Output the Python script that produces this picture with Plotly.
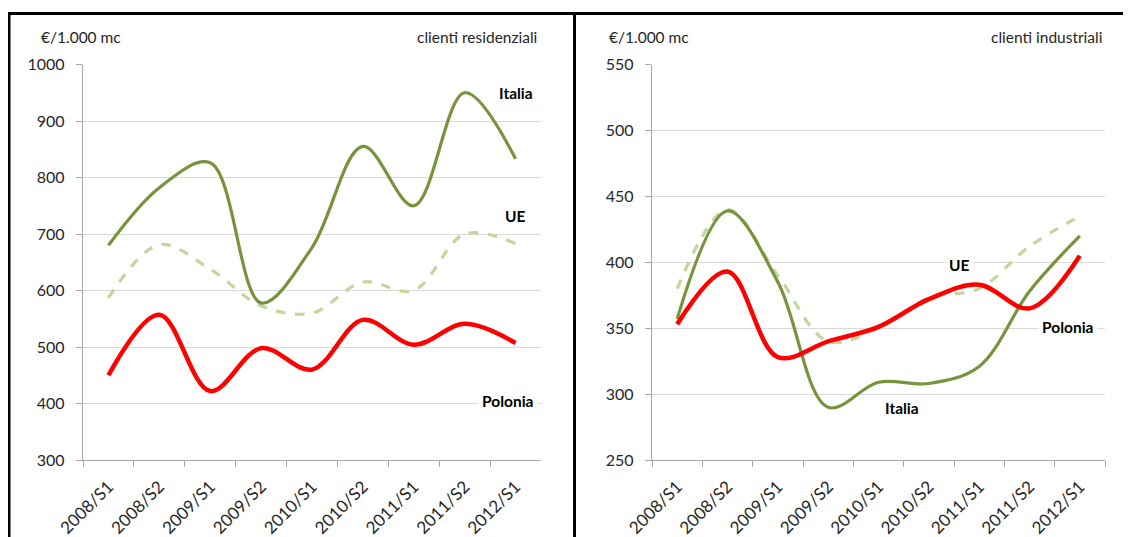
import plotly.graph_objects as go
from plotly.subplots import make_subplots

categories = ["2008/S1", "2008/S2", "2009/S1", "2009/S2", "2010/S1",
              "2010/S2", "2011/S1", "2011/S2", "2012/S1"]

# Clienti residenziali (€/1.000 mc)
res_italia = [680, 782, 826, 578, 676, 855, 750, 950, 833]
res_ue = [587, 681, 638, 573, 560, 615, 600, 700, 683]
res_polonia = [450, 557, 422, 498, 460, 548, 504, 541, 507]

# Clienti industriali (€/1.000 mc)
ind_italia = [357, 439, 385, 290, 309, 308, 321, 378, 420]
ind_ue = [380, 440, 390, 340, 350, 373, 380, 412, 435]
ind_polonia = [353, 393, 328, 340, 351, 372, 383, 365, 405]

# page has an 8px body margin: figure is drawn 8px in from the top-left
OFF = 8
W, H = 1131 - OFF, 537 - OFF
FONT = "Lato"
C_IT = "#77933C"
C_UE = "#C3D69B"
C_PL = "#FF0000"

def px(x):
    return (x - OFF) / W

def py(y):
    return 1 - (y - OFF) / H

fig = make_subplots(rows=1, cols=2)

def add_series(col, it, ue, pl):
    fig.add_trace(go.Scatter(x=categories, y=ue, mode="lines", name="UE",
                             line=dict(color=C_UE, width=3.2, dash="dash",
                                       shape="spline", smoothing=1.0)), row=1, col=col)
    fig.add_trace(go.Scatter(x=categories, y=it, mode="lines", name="Italia",
                             line=dict(color=C_IT, width=3.2,
                                       shape="spline", smoothing=1.0)), row=1, col=col)
    fig.add_trace(go.Scatter(x=categories, y=pl, mode="lines", name="Polonia",
                             line=dict(color=C_PL, width=4.5,
                                       shape="spline", smoothing=1.0)), row=1, col=col)

add_series(1, res_italia, res_ue, res_polonia)
add_series(2, ind_italia, ind_ue, ind_polonia)

axis_common = dict(
    showline=True, linecolor="#A6A6A6", linewidth=1.3,
    ticks="outside", tickcolor="#A6A6A6", ticklen=6, tickwidth=1,
    automargin=False,
)

fig.update_xaxes(type="category", tickson="boundaries", tickangle=-45,
                 showgrid=False, range=[-0.5, 8.5], ticklabelstandoff=9,
                 tickfont=dict(family=FONT, size=17, color="#262626"), **axis_common)
fig.update_yaxes(showgrid=True, gridcolor="#D9D9D9", gridwidth=1,
                 zeroline=False, ticklabelstandoff=8,
                 tickfont=dict(family=FONT, size=16, color="#262626"), **axis_common)

fig.update_layout(
    width=W, height=H,
    margin=dict(l=0, r=0, t=0, b=0),
    paper_bgcolor="white", plot_bgcolor="white",
    showlegend=False,
    font=dict(family=FONT),
    xaxis=dict(domain=[px(83), px(541)]),
    xaxis2=dict(domain=[px(652), px(1105)]),
    yaxis=dict(domain=[py(460), py(64.5)], range=[300, 1000], dtick=100),
    yaxis2=dict(domain=[py(460), py(64.5)], range=[250, 550], dtick=50),
)

# Panel borders
bw = 3
top = py(13.5)
fig.add_shape(type="line", xref="paper", yref="paper", x0=0, x1=1.0,
              y0=top, y1=top, line=dict(color="black", width=bw))
fig.add_shape(type="line", xref="paper", yref="paper", x0=1.0 / W, x1=1.0 / W,
              y0=-0.02, y1=top, line=dict(color="black", width=bw))
fig.add_shape(type="line", xref="paper", yref="paper", x0=px(574.5), x1=px(574.5),
              y0=-0.02, y1=top, line=dict(color="black", width=bw))

def txt(x, y, text, anchor="left", size=15.5, bold=False, xref="paper", yref="paper", bg=None):
    fig.add_annotation(x=x, y=y, xref=xref, yref=yref, text=("<b>%s</b>" % text) if bold else text,
                       showarrow=False, xanchor=anchor, yanchor="middle",
                       font=dict(family=FONT, size=size, color="#262626" if not bold else "black"),
                       bgcolor=bg, borderpad=3)

ty = py(37)
txt(px(37), ty, "€/1.000 mc")
txt(px(541), ty, "clienti residenziali", anchor="right")
txt(px(605), ty, "€/1.000 mc")
txt(px(1106), ty, "clienti industriali", anchor="right")

# Series labels
txt(8, 949, "Italia", anchor="center", bold=True, xref="x", yref="y", bg="white")
txt(8, 732, "UE", anchor="center", bold=True, xref="x", yref="y", bg="white")
txt(7.86, 404, "Polonia", anchor="center", bold=True, xref="x", yref="y", bg="white")
txt(5.6, 398, "UE", anchor="center", bold=True, xref="x2", yref="y2", bg="white")
txt(7.76, 351, "Polonia", anchor="center", bold=True, xref="x2", yref="y2", bg="white")
txt(4.46, 289.5, "Italia", anchor="center", bold=True, xref="x2", yref="y2", bg="white")

fig.write_html("out.html")
